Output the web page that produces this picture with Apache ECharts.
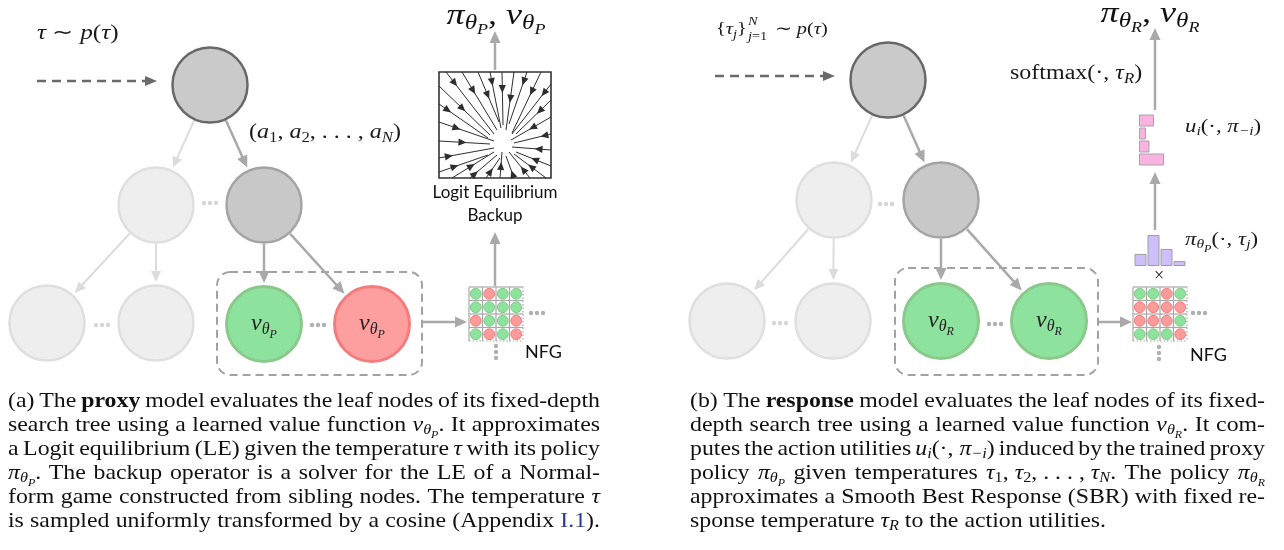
<!DOCTYPE html>
<html>
<head>
<meta charset="utf-8">
<script src="https://cdn.jsdelivr.net/npm/echarts@6/dist/echarts.min.js"></script>
<style>
  html, body { margin: 0; padding: 0; background: #fff; }
  #chart { width: 1284px; height: 550px; }
</style>
</head>
<body>
<div id="chart"></div>
<script>
// ---- tree nodes: [x, y, kind, value-net subscript] ----
var nodes = [
  [210, 85, 'root', ''], [156, 205, 'faded', ''], [264, 205, 'inner', ''],
  [47, 323, 'faded', ''], [156, 323, 'faded', ''], [264, 324, 'green', 'P'], [372, 324, 'red', 'P'],
  [888, 80, 'root', ''], [834, 200, 'faded', ''], [941, 200, 'inner', ''],
  [727, 321, 'faded', ''], [833, 321, 'faded', ''], [941, 321, 'green', 'R'], [1049, 321, 'green', 'R']
];
// parent -> child
var edges = [
  [0, 1, 'faded'], [0, 2, 'dark'], [1, 3, 'faded'], [1, 4, 'faded'], [2, 5, 'dark'], [2, 6, 'dark'],
  [7, 8, 'faded'], [7, 9, 'dark'], [8, 10, 'faded'], [8, 11, 'faded'], [9, 12, 'dark'], [9, 13, 'dark']
];
// other arrows: [x0, y0, x1, y1, kind]
var flowArrows = [
  [37, 81, 157, 81, 'dash'], [715, 76, 835, 76, 'dash'],
  [423, 322, 467, 322, 'dark'], [495, 286, 495, 232, 'dark'], [495, 70, 495, 31, 'dark'],
  [1099, 322, 1132, 322, 'dark'], [1155, 230, 1155, 172, 'dark'], [1155, 110, 1155, 28, 'dark']
];
// "..." marks: [x, y, direction, kind]
var ellipses = [
  [210, 203, 'h', 'faded'], [102, 325, 'h', 'faded'], [318, 325, 'h', 'dark'],
  [537, 313, 'h', 'dark'], [496, 352, 'v', 'dark'],
  [886, 204, 'h', 'faded'], [780, 323, 'h', 'faded'], [995, 324, 'h', 'dark'],
  [1199, 313, 'h', 'dark'], [1159, 353, 'v', 'dark']
];
var siblingBoxes = [[217, 272, 422, 375], [895, 268, 1098, 375]];
var leBox = [[439, 72, 551, 178]];
// normal-form game tables (G = green, R = red)
var nfgA = ['GRGG', 'GGGG', 'RGGR', 'GRGR'];
var nfgB = ['GGRG', 'RRRR', 'RRRG', 'GGGR'];
var nfgOrigins = [[469, 287], [1133, 287]];
// logit-equilibrium streamlines: [x0, y0, x1, y1]
var streams = [
  [446, 72, 494, 134], [462, 72, 497, 130], [478, 72, 499, 122], [490, 72, 501, 128], [502, 72, 503, 125],
  [514, 72, 506, 130], [527, 72, 509, 124], [541, 72, 512, 133],
  [439, 86, 490, 135], [439, 104, 488, 138], [439, 122, 494, 141], [439, 141, 490, 144], [439, 158, 494, 148], [439, 172, 488, 155],
  [452, 178, 494, 152], [470, 178, 497, 155], [486, 178, 500, 158], [500, 178, 502, 152], [514, 178, 506, 156],
  [530, 178, 509, 152], [546, 178, 514, 154],
  [551, 84, 512, 134], [551, 100, 516, 134], [551, 117, 511, 140], [551, 134, 514, 143], [551, 150, 512, 147], [551, 166, 516, 152]
];
// proxy policy histogram and action utilities
var actions = ['a1', 'a2', 'a3', 'a4'];
var proxyPolicy = [0.39, 1.0, 0.55, 0.16];
var utilities = [0.6, 0.28, 0.42, 1.0];

var captionA = [
  '(a) The {b|proxy} model evaluates the leaf nodes of its fixed-depth',
  'search tree using a learned value function {m|v}{s|θ}{ss|P}. It approximates',
  'a Logit equilibrium (LE) given the temperature {m|τ} with its policy',
  '{m|π}{s|θ}{ss|P}. The backup operator is a solver for the LE of a Normal-',
  'form game constructed from sibling nodes. The temperature {m|τ}',
  'is sampled uniformly transformed by a cosine (Appendix {l|I.1}).'
];
var captionB = [
  '(b) The {b|response} model evaluates the leaf nodes of its fixed-',
  'depth search tree using a learned value function {m|v}{s|θ}{ss|R}. It com-',
  'putes the action utilities {m|u}{s|i}(·,\u00a0{m|π}{s|−i}) induced by the trained proxy',
  'policy {m|π}{s|θ}{ss|P} given temperatures {m|τ}{sn|1},\u00a0{m|τ}{sn|2},\u00a0.\u00a0.\u00a0.\u00a0,\u00a0{m|τ}{s|N}. The policy {m|π}{s|θ}{ss|R}',
  'approximates a Smooth Best Response (SBR) with fixed re-',
  'sponse temperature {m|τ}{s|R} to the action utilities.'
];

// ---- styles ----
var SERIF = '"Liberation Serif", "Times New Roman", serif';
var SANS = 'Lato, "Noto Sans", sans-serif';
var NODE_R = 38;
var LBL_SX = 1.2;
var nodeStyle = {
  root: { color: '#cacaca', borderColor: '#686868', borderWidth: 2.5, opacity: 1 },
  inner: { color: '#c8c8c8', borderColor: '#a4a4a4', borderWidth: 2.5, opacity: 1 },
  faded: { color: '#eeeeee', borderColor: '#dfdfdf', borderWidth: 2.5, opacity: 1 },
  green: { color: '#8de29d', borderColor: '#8ac98b', borderWidth: 3, opacity: 1 },
  red: { color: '#fd9f9f', borderColor: '#f47c7c', borderWidth: 3, opacity: 1 }
};
var arrowStyle = {
  dark: { color: '#a9a9a9', width: 2.5, head: [12, 5.5] },
  faded: { color: '#dcdcdc', width: 2, head: [11, 5] },
  dash: { color: '#6a6a6a', width: 2.5, head: [12, 5], dash: [9, 6] }
};

var ctx = document.createElement('canvas').getContext('2d');

function richFor(size, color) {
  return {
    m: { font: 'italic ' + size + 'px ' + SERIF, fill: color },
    r: { font: size + 'px ' + SERIF, fill: color },
    b: { font: 'bold ' + size + 'px ' + SERIF, fill: color },
    s: { font: 'italic ' + Math.round(size * 0.7) + 'px ' + SERIF, fill: color, padding: [Math.round(size * 0.5), 0, 0, 0] },
    sn: { font: Math.round(size * 0.7) + 'px ' + SERIF, fill: color, padding: [Math.round(size * 0.5), 0, 0, 0] },
    ss: { font: 'italic ' + Math.round(size * 0.5) + 'px ' + SERIF, fill: color, padding: [Math.round(size * 0.95), 0, 0, 0] },
    l: { font: size + 'px ' + SERIF, fill: '#2b3990' }
  };
}

function measureMarkup(markup, rich, baseFont) {
  var re = /\{(\w+)\|([^}]*)\}/g, w = 0, last = 0, m;
  while ((m = re.exec(markup))) {
    if (m.index > last) { ctx.font = baseFont; w += ctx.measureText(markup.slice(last, m.index)).width; }
    var st = rich[m[1]];
    ctx.font = st.font;
    w += ctx.measureText(m[2]).width + (st.padding ? st.padding[1] + st.padding[3] : 0);
    last = re.lastIndex;
  }
  if (last < markup.length) { ctx.font = baseFont; w += ctx.measureText(markup.slice(last)).width; }
  return w;
}

function mathText(x, y, markup, size, align, sx, color) {
  color = color || '#1a1a1a';
  return {
    type: 'text', x: x, y: y, scaleX: sx || 1, silent: true,
    style: {
      text: markup, rich: richFor(size, color), font: size + 'px ' + SERIF, fill: color,
      align: align || 'left', verticalAlign: 'middle', textAlign: align || 'left', textVerticalAlign: 'middle'
    }
  };
}

// ---- captions, justified ----
var CAP_SIZE = 22, CAP_TOP = 401, CAP_LINE = 24;
var capRich = richFor(CAP_SIZE, '#111');
var capBase = CAP_SIZE + 'px ' + SERIF;
// last line of (a) runs the full column width with normal spacing
var CAP_SX = 590 / measureMarkup(captionA[5], capRich, capBase);

function caption(lines, x0, width, lastNatural) {
  ctx.font = capBase;
  var spaceW = ctx.measureText(' ').width;
  var els = [];
  lines.forEach(function (line, i) {
    var words = line.split(' ');
    var ws = words.map(function (w) { return measureMarkup(w, capRich, capBase); });
    var total = ws.reduce(function (a, b) { return a + b; }, 0);
    var gap = (lastNatural && i === lines.length - 1) ? spaceW : (width / CAP_SX - total) / (words.length - 1);
    var x = 0;
    words.forEach(function (w, k) {
      els.push({
        type: 'text', x: x, y: CAP_TOP + i * CAP_LINE, silent: true,
        style: { text: w, rich: capRich, font: capBase, fill: '#111', align: 'left', verticalAlign: 'middle', textAlign: 'left', textVerticalAlign: 'middle' }
      });
      x += ws[k] + gap;
    });
  });
  return { type: 'group', x: x0, y: 0, scaleX: CAP_SX, children: els };
}

// ---- derived series data ----
var edgeSegs = edges.map(function (e) {
  var a = nodes[e[0]], b = nodes[e[1]];
  var dx = b[0] - a[0], dy = b[1] - a[1], d = Math.sqrt(dx * dx + dy * dy);
  var ux = dx / d, uy = dy / d;
  return [a[0] + ux * (NODE_R + 1), a[1] + uy * (NODE_R + 1), b[0] - ux * (NODE_R + 3), b[1] - uy * (NODE_R + 3), e[2]];
});
var allArrows = edgeSegs.concat(flowArrows);

var nfgCells = [];
[nfgA, nfgB].forEach(function (tab, g) {
  tab.forEach(function (row, r) {
    row.split('').forEach(function (c, col) { nfgCells.push([g, col, r, c]); });
  });
});

function arrowShape(p0, p1, L, W, color, width, dash, headAt) {
  var dx = p1[0] - p0[0], dy = p1[1] - p0[1], len = Math.sqrt(dx * dx + dy * dy);
  var ux = dx / len, uy = dy / len;
  var tip = headAt == null ? p1 : [p0[0] + dx * headAt + ux * L / 2, p0[1] + dy * headAt + uy * L / 2];
  var bx = tip[0] - ux * L, by = tip[1] - uy * L;
  var lineEnd = headAt == null ? [bx + ux * 2, by + uy * 2] : p1;
  return [
    { type: 'line', shape: { x1: p0[0], y1: p0[1], x2: lineEnd[0], y2: lineEnd[1] },
      style: { stroke: color, lineWidth: width, lineDash: dash || null, fill: null } },
    { type: 'polygon', shape: { points: [[tip[0], tip[1]], [bx - uy * W, by + ux * W], [bx + uy * W, by - ux * W]] },
      style: { fill: color } }
  ];
}

var chart = echarts.init(document.getElementById('chart'), null, { renderer: 'canvas' });

var nodeRich = {
  m: { fontFamily: 'Liberation Serif', fontStyle: 'italic', fontSize: 24, color: '#222' },
  s: { fontFamily: 'Liberation Serif', fontStyle: 'italic', fontSize: 16, color: '#222', padding: [12, 0, 0, 0] },
  ss: { fontFamily: 'Liberation Serif', fontStyle: 'italic', fontSize: 12, color: '#222', padding: [22, 0, 0, 0] }
};

// ---- text labels ----
var texts = [];
texts.push(mathText(37, 33, '{m|τ} ∼ {m|p}({m|τ})', 21, 'left', LBL_SX));
texts.push(mathText(249, 133, '({m|a}{sn|1},\u00a0{m|a}{sn|2},\u00a0.\u00a0.\u00a0.\u00a0,\u00a0{m|a}{s|N})', 20, 'left', LBL_SX));
texts.push(mathText(496, 16, '{m|π}{s|θ}{ss|P}, {m|v}{s|θ}{ss|P}', 30, 'center', LBL_SX, '#111'));
texts.push(mathText(1150, 14, '{m|π}{s|θ}{ss|R}, {m|v}{s|θ}{ss|R}', 30, 'center', LBL_SX, '#111'));
texts.push(mathText(1010, 74, 'softmax(·,\u00a0{m|τ}{s|R})', 20, 'left', LBL_SX));
texts.push(mathText(1185, 127, '{m|u}{s|i}(·,\u00a0{m|π}{s|−i})', 19, 'left', LBL_SX));
texts.push(mathText(1185, 240, '{m|π}{s|θ}{ss|P}(·,\u00a0{m|τ}{s|j})', 19, 'left', LBL_SX));
texts.push(mathText(1159, 276, '×', 18, 'center', 1));
(function () {
  var sz = 17, rich = richFor(sz, '#1a1a1a');
  var part1 = '{r|{}{m|τ}{s|j}}';
  var w1 = measureMarkup(part1, rich, sz + 'px ' + SERIF) * LBL_SX;
  texts.push(mathText(716, 30, part1, sz, 'left', LBL_SX));
  texts.push(mathText(716 + w1 + 1, 22, '{m|N}', 12, 'left', LBL_SX));
  texts.push(mathText(716 + w1 + 1, 37, '{m|j}=1', 12, 'left', LBL_SX));
  texts.push(mathText(716 + w1 + 28, 30, '∼ {m|p}({m|τ})', sz, 'left', LBL_SX));
})();
function sansText(x, y, t, size, align) {
  return { type: 'text', x: x, y: y, silent: true,
    style: { text: t, font: size + 'px ' + SANS, fill: '#111', align: align, verticalAlign: 'middle', textAlign: align, textVerticalAlign: 'middle' } };
}
texts.push(sansText(495, 193, 'Logit Equilibrium', 17, 'center'));
texts.push(sansText(495, 216, 'Backup', 17, 'center'));
texts.push(sansText(525, 352, 'NFG', 18, 'left'));
texts.push(sansText(1190, 355, 'NFG', 18, 'left'));
texts.push(caption(captionA, 8, 592, false));
texts.push(caption(captionB, 690, 575, true));

var option = {
  animation: false,
  backgroundColor: '#ffffff',
  grid: [
    { left: 0, right: 0, top: 0, bottom: 0 },
    { left: 1134, top: 235, width: 52, height: 31 },
    { left: 1139, top: 114, width: 25, height: 52 }
  ],
  xAxis: [
    { type: 'value', min: 0, max: 1284, show: false, gridIndex: 0 },
    { type: 'category', data: actions, show: false, gridIndex: 1 },
    { type: 'value', min: 0, max: 1, show: false, gridIndex: 2 }
  ],
  yAxis: [
    { type: 'value', min: 0, max: 550, inverse: true, show: false, gridIndex: 0 },
    { type: 'value', min: 0, max: 1, show: false, gridIndex: 1 },
    { type: 'category', data: actions, inverse: true, show: false, gridIndex: 2 }
  ],
  series: [
    {
      // sibling boxes and LE frame
      type: 'custom', xAxisIndex: 0, yAxisIndex: 0, silent: true,
      data: siblingBoxes.concat(leBox),
      encode: { x: [0, 2], y: [1, 3] },
      renderItem: function (params, api) {
        var p0 = api.coord([api.value(0), api.value(1)]);
        var p1 = api.coord([api.value(2), api.value(3)]);
        var isLE = params.dataIndex >= siblingBoxes.length;
        return {
          type: 'rect',
          shape: { x: p0[0], y: p0[1], width: p1[0] - p0[0], height: p1[1] - p0[1], r: isLE ? 0 : 13 },
          style: isLE ? { fill: '#fff', stroke: '#333', lineWidth: 1.6 }
                      : { fill: null, stroke: '#a2a2a2', lineWidth: 2, lineDash: [8, 5] }
        };
      }
    },
    {
      // streamlines inside the LE box
      type: 'custom', xAxisIndex: 0, yAxisIndex: 0, silent: true, z: 3,
      data: streams,
      encode: { x: [0, 2], y: [1, 3] },
      renderItem: function (params, api) {
        var p0 = api.coord([api.value(0), api.value(1)]);
        var p1 = api.coord([api.value(2), api.value(3)]);
        var at = 0.18 + 0.14 * (params.dataIndex % 3);
        return { type: 'group', children: arrowShape(p0, p1, 8, 3.6, '#2e2e2e', 1, null, at) };
      }
    },
    {
      // all arrows (tree edges and flow arrows)
      type: 'custom', xAxisIndex: 0, yAxisIndex: 0, silent: true,
      data: allArrows.map(function (a) { return a.slice(0, 4); }),
      encode: { x: [0, 2], y: [1, 3] },
      renderItem: function (params, api) {
        var a = allArrows[params.dataIndex];
        var st = arrowStyle[a[4]];
        var p0 = api.coord([a[0], a[1]]), p1 = api.coord([a[2], a[3]]);
        return { type: 'group', children: arrowShape(p0, p1, st.head[0], st.head[1], st.color, st.width, st.dash) };
      }
    },
    {
      // ellipsis dots
      type: 'custom', xAxisIndex: 0, yAxisIndex: 0, silent: true,
      data: ellipses.map(function (e) { return [e[0], e[1]]; }),
      renderItem: function (params, api) {
        var e = ellipses[params.dataIndex];
        var c = api.coord([e[0], e[1]]);
        var col = e[3] === 'faded' ? '#d6d6d6' : '#b0b0b0';
        var kids = [-6, 0, 6].map(function (o) {
          return { type: 'circle',
            shape: { cx: e[2] === 'h' ? c[0] + o : c[0], cy: e[2] === 'h' ? c[1] : c[1] + o, r: 2.2 },
            style: { fill: col } };
        });
        return { type: 'group', children: kids };
      }
    },
    {
      // normal-form game tables
      type: 'custom', xAxisIndex: 0, yAxisIndex: 0, silent: true,
      data: nfgCells.map(function (c) { return [nfgOrigins[c[0]][0], nfgOrigins[c[0]][1]]; }),
      renderItem: function (params, api) {
        var cell = nfgCells[params.dataIndex];
        var o = nfgOrigins[cell[0]];
        var cs = 13.5;
        var p = api.coord([o[0] + cell[1] * cs, o[1] + cell[2] * cs]);
        var sz = api.size([cs, cs]);
        var w = sz[0], h = sz[1];
        var grid = '#a8a8a8';
        var kids = [
          { type: 'line', shape: { x1: p[0], y1: p[1], x2: p[0] + w, y2: p[1] }, style: { stroke: grid, lineWidth: 1.2 } },
          { type: 'line', shape: { x1: p[0], y1: p[1], x2: p[0], y2: p[1] + h }, style: { stroke: grid, lineWidth: 1.2 } },
          { type: 'circle', shape: { cx: p[0] + w / 2, cy: p[1] + h / 2, r: 5.4 },
            style: cell[3] === 'G' ? { fill: '#8de29d', stroke: '#86c888', lineWidth: 1 } : { fill: '#fd9a9a', stroke: '#ef7f7f', lineWidth: 1 } }
        ];
        if (cell[1] === 3) kids.push({ type: 'line', shape: { x1: p[0] + w, y1: p[1], x2: p[0] + w, y2: p[1] + h }, style: { stroke: grid, lineWidth: 1.2, lineDash: [1.5, 2] } });
        if (cell[2] === 3) kids.push({ type: 'line', shape: { x1: p[0], y1: p[1] + h, x2: p[0] + w, y2: p[1] + h }, style: { stroke: grid, lineWidth: 1.2, lineDash: [1.5, 2] } });
        return { type: 'group', children: kids };
      }
    },
    {
      // search-tree nodes
      type: 'scatter', xAxisIndex: 0, yAxisIndex: 0, silent: true, z: 4,
      symbol: 'circle', symbolSize: NODE_R * 2 - 1,
      itemStyle: { opacity: 1 },
      data: nodes.map(function (n) {
        return {
          value: [n[0], n[1]],
          itemStyle: nodeStyle[n[2]],
          label: { show: !!n[3], position: 'inside', formatter: '{m|v}{s|θ}{ss|' + n[3] + '}', rich: nodeRich }
        };
      })
    },
    {
      type: 'bar', xAxisIndex: 1, yAxisIndex: 1, silent: true,
      data: proxyPolicy, barWidth: 12,
      itemStyle: { color: '#cdbffa', borderColor: '#9e9e9e', borderWidth: 1 }
    },
    {
      type: 'bar', xAxisIndex: 2, yAxisIndex: 2, silent: true,
      data: utilities, barWidth: 12,
      itemStyle: { color: '#f8b3e1', borderColor: '#a6a6a6', borderWidth: 1 }
    }
  ],
  graphic: { elements: texts }
};
chart.setOption(option);
</script>
</body>
</html>
